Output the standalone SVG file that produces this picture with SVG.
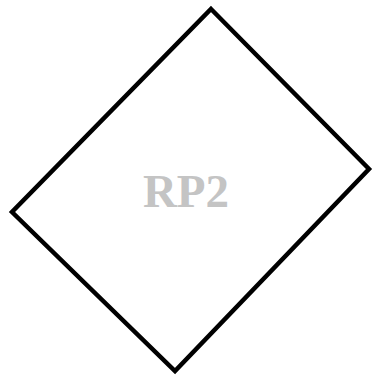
<svg xmlns="http://www.w3.org/2000/svg" width="373" height="377" viewBox="0 0 373 377">
<style>
.shape{fill:#ffffff;stroke:#000000;stroke-width:4.5;stroke-linejoin:miter}
.label{font-family:"Liberation Serif","Times New Roman",serif;font-weight:bold;font-size:47px;fill:#c4c4c4;text-anchor:middle}
</style>
<rect width="373" height="377" fill="#ffffff"/>
<g id="connectors"></g>
<g id="node-rp2">
<polygon class="shape" points="211,9 369,169 175,371 12,212"/>
<text class="label" x="186" y="207">RP2</text>
</g>
</svg>
